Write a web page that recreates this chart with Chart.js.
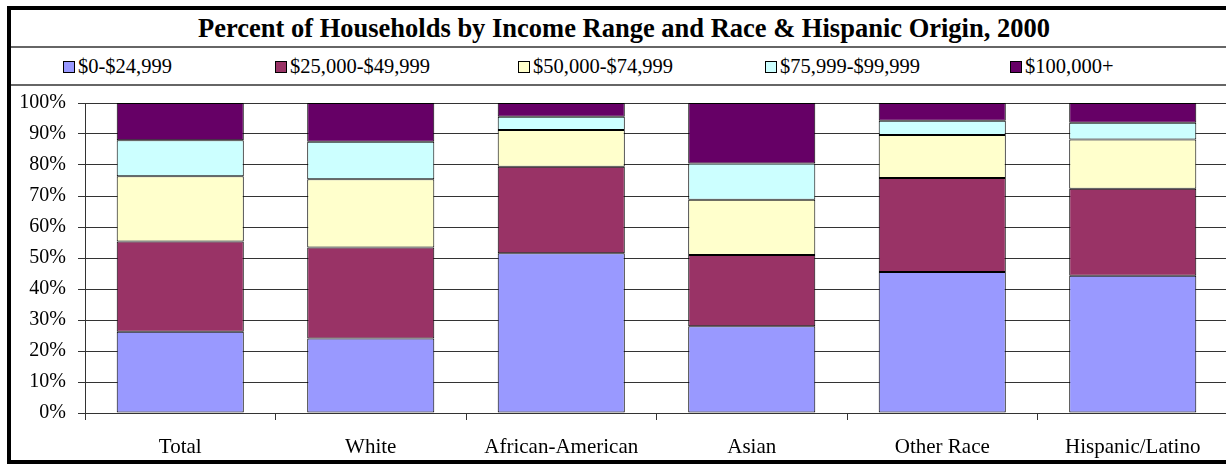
<!DOCTYPE html>
<html>
<head>
<meta charset="utf-8">
<script src="https://cdn.jsdelivr.net/npm/chart.js@4.4.1/dist/chart.umd.min.js"></script>
<style>
  html, body { margin: 0; padding: 0; background: #fff; overflow: hidden; width: 1226px; height: 464px; }
  body { position: relative; font-family: "Liberation Serif", "Times New Roman", serif; color: #000; }
  #frame { position: absolute; left: 7px; top: 6px; width: 1240px; height: 450px;
           border-left: 4px solid #000; border-top: 4px solid #000; border-bottom: 4px solid #000; }
  #title { position: absolute; left: 0; top: 0; width: 1226px; height: 36px; border-bottom: 2px solid #666;
           font-family: "Liberation Serif", serif; font-weight: bold; font-size: 26.5px; line-height: 36px; text-align: center; }
  #legend { position: absolute; left: 0; top: 38px; width: 1240px; height: 36px; border-bottom: 2px solid #666; }
  .item { position: absolute; top: 0; height: 36px; line-height: 36px; white-space: nowrap;
          font-family: "Liberation Serif", serif; font-size: 20.5px; }
  .sw { display: inline-block; width: 10px; height: 10px; border: 1px solid #000; margin-right: 3px; vertical-align: 0px; }
  #wrap { position: absolute; left: 11px; top: 79px; width: 1222px; height: 380px; }
</style>
</head>
<body>
<div id="frame">
  <div id="title">Percent of Households by Income Range and Race &amp; Hispanic Origin, 2000</div>
  <div id="legend"></div>
</div>
<div id="wrap"><canvas id="c" width="1222" height="380"></canvas></div>
<script>
// categories and series (percent of households)
const races = ['Total', 'White', 'African-American', 'Asian', 'Other Race', 'Hispanic/Latino'];
const incomeRanges = ['$0-$24,999', '$25,000-$49,999', '$50,000-$74,999', '$75,999-$99,999', '$100,000+'];
const under25k = [26.2, 24.0, 51.5, 28.0, 45.5, 44.3];
const from25to50k = [29.1, 29.4, 27.9, 23.0, 30.3, 28.0];
const from50to75k = [21.1, 22.0, 11.9, 17.8, 13.9, 15.9];
const from75to100k = [11.6, 12.1, 4.3, 11.7, 4.6, 5.4];
const over100k = [12.0, 12.5, 4.4, 19.5, 5.7, 6.4];
const yTicks = [0, 10, 20, 30, 40, 50, 60, 70, 80, 90, 100];

const colors = ['#9999FF', '#993366', '#FFFFCC', '#CCFFFF', '#660066'];
const series = [under25k, from25to50k, from50to75k, from75to100k, over100k];

// legend (Excel style, spread across the row)
const legendX = [63, 275, 518, 765, 1010];
const legendEl = document.getElementById('legend');
incomeRanges.forEach((name, i) => {
  const d = document.createElement('div');
  d.className = 'item';
  d.style.left = (legendX[i] - 11) + 'px';
  d.innerHTML = '<span class="sw" style="background:' + colors[i] + '"></span>' + name;
  legendEl.appendChild(d);
});

const serif = '"Liberation Serif", "Times New Roman", serif';

new Chart(document.getElementById('c'), {
  type: 'bar',
  data: {
    labels: races,
    datasets: series.map((vals, i) => ({
      label: incomeRanges[i],
      data: vals,
      backgroundColor: colors[i],
      borderColor: '#000',
      borderWidth: 1,
      borderSkipped: false,
      barPercentage: 0.667,
      categoryPercentage: 1
    }))
  },
  options: {
    responsive: false,
    animation: false,
    layout: { padding: { top: 0, right: 5, left: 0, bottom: 0 } },
    plugins: { legend: { display: false }, tooltip: { enabled: false } },
    scales: {
      x: {
        stacked: true,
        grid: { display: true, drawOnChartArea: false, drawTicks: true, tickLength: 7, color: '#333', offset: true },
        border: { display: true, color: '#333', width: 1 },
        ticks: { color: '#000', font: { family: serif, size: 21 }, padding: 15, maxRotation: 0, autoSkip: false },
        afterFit: s => { s.height = 46; }
      },
      y: {
        stacked: true,
        min: 0,
        max: 100,
        afterBuildTicks: s => { s.ticks = yTicks.map(v => ({ value: v })); },
        grid: { color: '#333', lineWidth: 1, tickLength: 7 },
        border: { display: true, color: '#333', width: 1 },
        ticks: { color: '#000', font: { family: serif, size: 20 }, padding: 12, callback: v => v + '%' },
        afterFit: s => { s.width = 74; }
      }
    }
  }
});
</script>
</body>
</html>
